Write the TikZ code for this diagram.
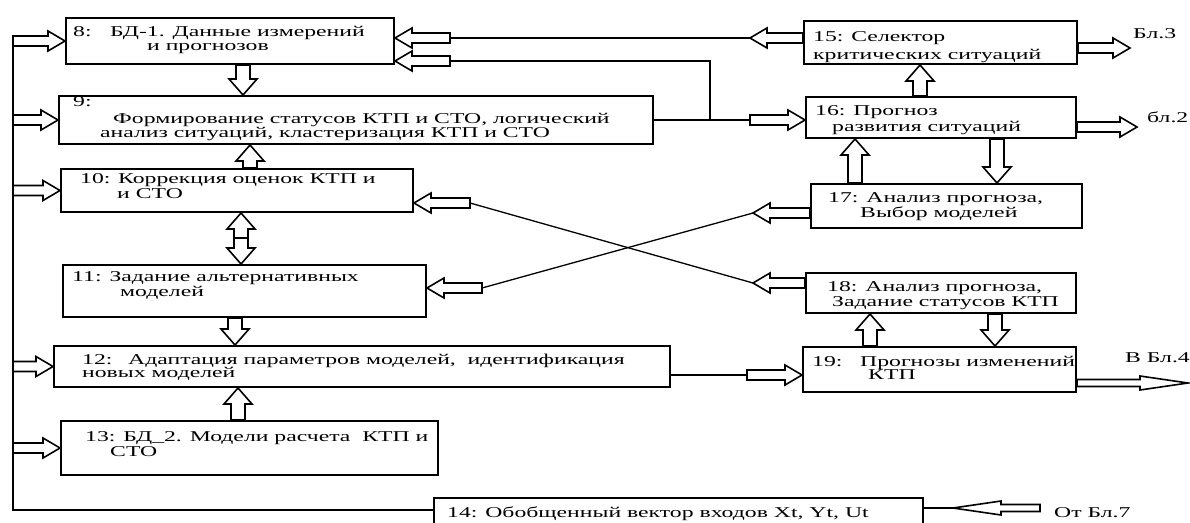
\documentclass[tikz,border=0pt]{standalone}
\usepackage{fontspec}
\setmainfont{Liberation Serif}[FakeStretch=1.58]
\usepackage{tikz}
\usetikzlibrary{calc,positioning}

\begin{document}
\begin{tikzpicture}[x=1pt,y=-1pt,
  box/.style={draw,line width=2pt,rectangle,inner sep=0pt,anchor=north west},
  txt/.style={anchor=base west,align=left,inner sep=0pt,font=\fontsize{15}{15}\selectfont},
  wire/.style={line width=1.3pt},
  trunk/.style={line width=2.6pt},
  blkpath/.style n args={3}{draw,line width=1.6pt,fill=white,line join=miter,
    to path={($(\tikztostart)!#1!90:(\tikztotarget)$)
      -- ($(\tikztotarget)!#3!(\tikztostart)!#1!-90:(\tikztostart)$)
      -- ($(\tikztotarget)!#3!(\tikztostart)!#2!-90:(\tikztostart)$)
      -- (\tikztotarget)
      -- ($(\tikztotarget)!#3!(\tikztostart)!#2!90:(\tikztostart)$)
      -- ($(\tikztotarget)!#3!(\tikztostart)!#1!90:(\tikztostart)$)
      -- ($(\tikztostart)!#1!-90:(\tikztotarget)$) -- cycle}},
  blk/.style={blkpath={7pt}{14pt}{16pt}},
  blks/.style={blkpath={5pt}{10pt}{17pt}},
  blkl/.style={blkpath={3.5pt}{7pt}{48pt}}]
  \useasboundingbox (0,0) rectangle (1190,522);

  % left column
  \node[box,minimum width=328pt,minimum height=46pt] (b8) at (65,17) {};
  \node[box,minimum width=594pt,minimum height=48pt] (b9) at (58,95) {};
  \node[box,minimum width=352pt,minimum height=43pt] (b10) at (60,168) {};
  \node[box,minimum width=363pt,minimum height=52pt] (b11) at (62,264) {};
  \node[box,minimum width=616pt,minimum height=41pt] (b12) at (53,345) {};
  \node[box,minimum width=377pt,minimum height=54pt] (b13) at (60,420) {};
  \node[box,minimum width=489pt,minimum height=30pt] (b14) at (433,497) {};
  % right column
  \node[box,minimum width=273pt,minimum height=43pt] (b15) at (803,20) {};
  \node[box,minimum width=270pt,minimum height=41pt] (b16) at (805,96) {};
  \node[box,minimum width=271pt,minimum height=44pt] (b17) at (810,183) {};
  \node[box,minimum width=270pt,minimum height=40pt] (b18) at (805,272) {};
  \node[box,minimum width=273pt,minimum height=45pt] (b19) at (802,346) {};

  % texts (placed at the baseline of the last line)
  \node[txt] (t8) at (73,50) {\makebox[37pt][l]{8:}БД-1. Данные измерений\\[-1pt]\hspace*{74pt}и прогнозов};
  \node[txt] (t9) at (73,137) {9:\\[2pt]\hspace*{40pt}Формирование статусов КТП и СТО, логический\\[-1pt]\hspace*{27pt}анализ ситуаций, кластеризация КТП и СТО};
  \node[txt] (t10) at (80,198) {\makebox[38pt][l]{10:}Коррекция оценок КТП и\\\hspace*{37pt}и СТО};
  \node[txt] (t11) at (72,296) {11: Задание альтернативных\\\hspace*{48pt}моделей};
  \node[txt] (t12) at (82,377) {\makebox[46pt][l]{12:}Адаптация параметров моделей,\ \ идентификация\\[-2pt]новых моделей};
  \node[txt] (t13) at (85,456) {13: БД\_2. Модели расчета\ \ КТП и\\\hspace*{25pt}СТО};
  \node[txt] (t14) at (447,517) {14: Обобщенный вектор входов Xt, Yt, Ut};
  \node[txt] (t15) at (813,59) {15: Селектор\\[3pt]критических ситуаций};
  \node[txt] (t16) at (815,131) {16: Прогноз\\[1pt]\hspace*{17pt}развития ситуаций};
  \node[txt] (t17) at (828,217) {17: Анализ прогноза,\\\hspace*{32pt}Выбор моделей};
  \node[txt] (t18) at (827,306) {18: Анализ прогноза,\\\hspace*{5pt}Задание статусов КТП};
  \node[txt] (t19) at (812,379) {\makebox[48pt][l]{19:}Прогнозы изменений\\[-2pt]\hspace*{56pt}КТП};
  \node[txt] (l3) at (1133,38) {Бл.3};
  \node[txt] (l2) at (1147,122) {бл.2};
  \node[txt] (l4) at (1125,362) {В Бл.4};
  \node[txt] (l7) at (1054,517) {От Бл.7};

  % input trunk
  \coordinate (trT) at (13,40);
  \coordinate (trB) at (13,510);
  \draw[trunk] (trT) -- (trB) -- (trB -| b14.west);
  \foreach \n in {8,9,10,12,13}
    \path[blks] (trT |- b\n.west) to (b\n.west);

  % vertical block arrows, left column
  \path[blk] (b8.south -| 243,0) to (b9.north -| 243,0);
  \path[blk] (b10.north -| 250,0) to (b9.south -| 250,0);
  \coordinate (m1011) at (241,238);
  \path[blk] (m1011) to (m1011 |- b10.south);
  \path[blk] (m1011) to (m1011 |- b11.north);
  \path[blk] (b11.south -| 235,0) to (b12.north -| 235,0);
  \path[blk] (b13.north -| 238,0) to (b12.south -| 238,0);

  % vertical block arrows, right column
  \path[blk] (b16.north -| 920,0) to (b15.south -| 920,0);
  \path[blk] (b17.north -| 855,0) to (b16.south -| 855,0);
  \path[blk] (b16.south -| 997,0) to (b17.north -| 997,0);
  \path[blk] (b19.north -| 870,0) to (b18.south -| 870,0);
  \path[blk] (b18.south -| 995,0) to (b19.north -| 995,0);

  % 15 -> 8
  \coordinate (c158a) at (750,38);
  \coordinate (c158b) at (450,38);
  \path[blks] (b15.west |- c158a) to (c158a);
  \draw[wire] (c158a) -- (c158b);
  \path[blks] (c158b) to (b8.east |- c158b);

  % 9 -> 16, branch to 8
  \coordinate (j916) at (710,120);
  \coordinate (c916) at (750,120);
  \coordinate (c98a) at (710,61);
  \coordinate (c98b) at (450,61);
  \draw[wire] (b9.east |- c916) -- (c916);
  \path[blks] (c916) to (b16.west |- c916);
  \draw[wire] (j916) -- (c98a) -- (c98b);
  \path[blks] (c98b) to (b8.east |- c98b);

  % 17 -> 11, 18 -> 10
  \coordinate (c1711a) at (753,213);
  \coordinate (c1711b) at (482,288);
  \path[blks] (b17.west |- c1711a) to (c1711a);
  \draw[wire] (c1711a) -- (c1711b);
  \path[blks] (c1711b) to (b11.east |- c1711b);
  \coordinate (c1810a) at (753,283);
  \coordinate (c1810b) at (470,203);
  \path[blks] (b18.west |- c1810a) to (c1810a);
  \draw[wire] (c1810a) -- (c1810b);
  \path[blks] (c1810b) to (b10.east |- c1810b);

  % 12 -> 19
  \coordinate (c1219) at (747,375);
  \draw[wire] (b12.east |- c1219) -- (c1219);
  \path[blks] (c1219) to (b19.west |- c1219);

  % outputs and input 14
  \coordinate (o15) at (1130,48);
  \path[blks] (b15.east |- o15) to (o15);
  \coordinate (o16) at (1137,127);
  \path[blks] (b16.east |- o16) to (o16);
  \coordinate (o19) at (1188,383);
  \path[blkl] (b19.east |- o19) to (o19);
  \coordinate (i14) at (1040,508);
  \coordinate (c14) at (953,508);
  \path[blkl] (i14) to (c14);
  \draw[wire] (c14) -- (b14.east |- c14);
\end{tikzpicture}
\end{document}
